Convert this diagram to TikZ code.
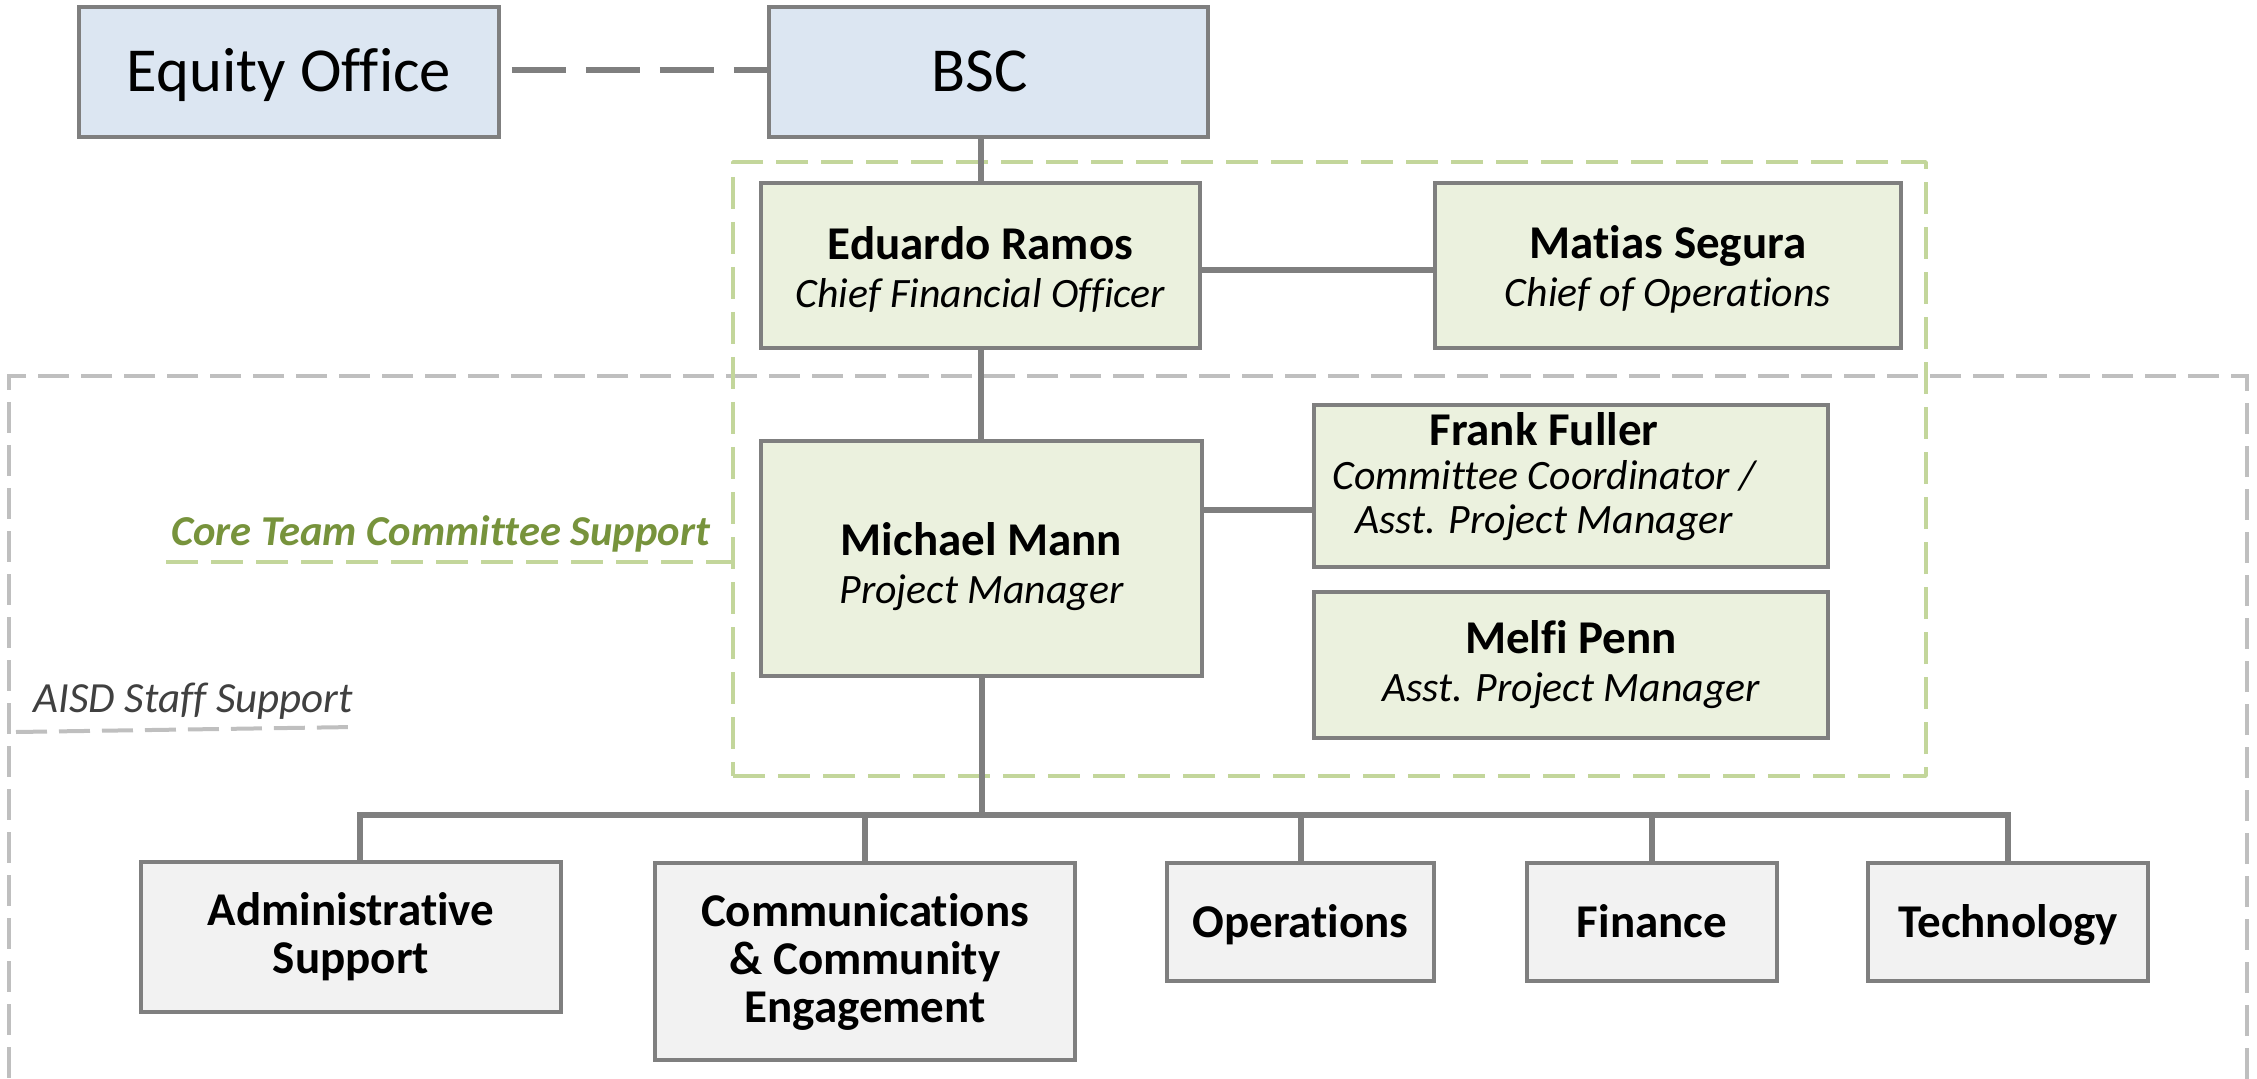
\documentclass[tikz,border=0pt]{standalone}
\usepackage{fontspec}
\setmainfont{Carlito}[Ligatures=NoCommon]
\definecolor{linegray}{HTML}{7F7F7F}
\definecolor{bluefill}{HTML}{DCE6F2}
\definecolor{greenfill}{HTML}{EBF1DE}
\definecolor{grayfill}{HTML}{F2F2F2}
\definecolor{framegreen}{HTML}{C3D69B}
\definecolor{framegray}{HTML}{BFBFBF}
\definecolor{labelgreen}{HTML}{77933C}
\definecolor{labelgray}{HTML}{404040}
\newcommand{\pname}[1]{{\fontsize{23.5}{24}\selectfont\bfseries #1}}
\newcommand{\ptitle}[1]{{\fontsize{20.9}{24}\selectfont\itshape #1}}
\begin{document}
\begin{tikzpicture}[x=0.5pt,y=-0.5pt,
  box/.style={draw=linegray, line width=1.75pt, inner sep=0pt, align=center, text=black, font=\fontsize{23.5}{24}\selectfont},
  bluebox/.style={box, fill=bluefill, font=\fontsize{31.3}{32}\selectfont, text height=26pt, text depth=6pt},
  greenbox/.style={box, fill=greenfill},
  graybox/.style={box, fill=grayfill, font=\fontsize{23.5}{24}\selectfont\bfseries},
  oneline/.style={text height=20pt, text depth=5pt},
  conn/.style={draw=linegray, line width=3pt},
  greenframe/.style={draw=framegreen, line width=1.75pt, dash pattern=on 16pt off 6.5pt, line join=round},
  grayframe/.style={draw=framegray, line width=2pt, dash pattern=on 15.5pt off 6pt},
]
\useasboundingbox (0,0) rectangle (2257,1079);

% frames
\node[grayframe, inner sep=0pt, minimum width=1119pt, minimum height=372pt] (staff) at (1128,748) {};
\node[greenframe, inner sep=0pt, minimum width=596.5pt, minimum height=307pt] (core) at (1329.5,469) {};

% boxes
\node[bluebox, minimum width=210pt, minimum height=65pt] (eq) at (289,72) {Equity Office};
\node[bluebox, minimum width=219.5pt, minimum height=65pt] (bsc) at (988.5,72) {BSC\rule{9pt}{0pt}};
\node[greenbox, minimum width=219.5pt, minimum height=82.5pt] (er) at (980.5,265.5) {\rule{0pt}{20pt}\pname{Eduardo Ramos}\\\ptitle{Chief Financial Officer}};
\node[greenbox, minimum width=233pt, minimum height=82.5pt] (ms) at (1668,265.5) {\rule{0pt}{20pt}\pname{Matias Segura}\\\ptitle{Chief of Operations}};
\node[greenbox, minimum width=220.5pt, minimum height=117.5pt] (mm) at (981.5,558.5) {\rule{0pt}{25pt}\pname{Michael Mann}\\\ptitle{Project Manager}};
\node[greenbox, minimum width=257pt, minimum height=81pt, font=\fontsize{23.5}{21.8}\selectfont] (ff) at (1571,486) {\pname{Frank Fuller}\rule{27pt}{0pt}\\\ptitle{Committee Coordinator /}\rule{27pt}{0pt}\\\ptitle{Asst. Project Manager}\rule{27pt}{0pt}\rule[-13pt]{0pt}{13pt}};
\node[greenbox, minimum width=257pt, minimum height=73pt] (mp) at (1571,665) {\pname{Melfi Penn}\\\ptitle{Asst. Project Manager}};
\node[graybox, minimum width=210pt, minimum height=75pt] (adm) at (351,937) {Administrative\\Support};
\node[graybox, minimum width=210pt, minimum height=98.5pt] (com) at (865,961.5) {Communications\\\& Community\\Engagement};
\node[graybox, oneline, minimum width=133.5pt, minimum height=59pt] (ops) at (1300.5,922) {Operations};
\node[graybox, oneline, minimum width=125pt, minimum height=59pt] (fin) at (1652,922) {Finance};
\node[graybox, oneline, minimum width=140pt, minimum height=59pt] (tec) at (2008,922) {Technology};

% connectors
\draw[conn, dash pattern=on 27pt off 10pt] ([xshift=5.5pt,yshift=1pt]eq.east) -- ([yshift=1pt]bsc.west);
\draw[conn] (er.north) -- (er.north |- bsc.south);
\draw[conn] (er.south) -- (er.south |- mm.north);
\draw[conn] ([yshift=-2.25pt]er.east) -- ([yshift=-2.25pt]er.east -| ms.west);
\draw[conn] ([yshift=24.25pt]mm.east) -- ([yshift=24.25pt]mm.east -| ff.west);
\coordinate (busL) at (360,815);
\coordinate (busR) at (2008,815);
\draw[conn] (mm.south) -- (mm.south |- busL);
\draw[conn, line cap=rect] (busL) -- (busR);
\draw[conn] (busL) -- (busL |- adm.north);
\draw[conn] (com.north |- busL) -- (com.north);
\draw[conn] (ops.north |- busL) -- (ops.north);
\draw[conn] (fin.north |- busL) -- (fin.north);
\draw[conn] (busR) -- (busR |- tec.north);

% labels
\node[anchor=base west, inner sep=0pt, text=labelgreen, font=\fontsize{21.3}{24}\selectfont\bfseries\itshape] (corelbl) at (171,545) {Core Team Committee Support};
\coordinate (cul) at (166,562);
\draw[greenframe] (cul) -- (cul -| core.west);
\node[anchor=base west, inner sep=0pt, text=labelgray, font=\fontsize{21.5}{24}\selectfont\itshape] (stafflbl) at (33,712) {AISD Staff Support};
\coordinate (sul) at (16,732);
\coordinate (sur) at (355,727);
\draw[grayframe] (sul) -- (sur);
\end{tikzpicture}
\end{document}
